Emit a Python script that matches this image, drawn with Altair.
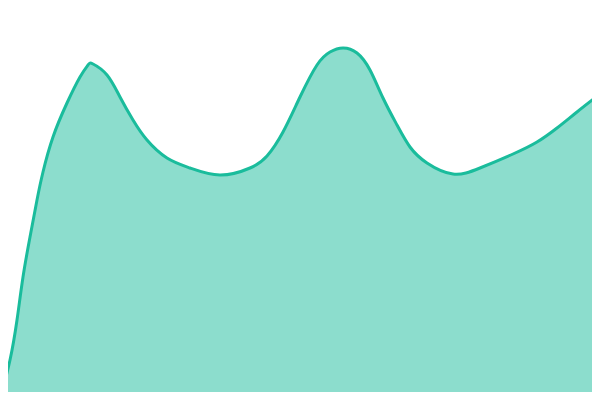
import altair as alt
import pandas as pd

xs = [0, 10, 17, 23, 30, 37, 43, 53, 67, 80, 88, 93, 107, 120, 133, 147, 167, 190, 220,
      250, 267, 283, 300, 317, 330, 343, 357, 370, 383, 397, 410, 427, 453, 480, 513,
      537, 557, 577, 600]
ys = [400, 360, 320, 277, 237, 200, 172, 137, 103, 77, 65, 64, 75, 97, 120, 140, 158, 168, 175,
      168, 156, 132, 97, 65, 52, 48, 53, 70, 98, 125, 147, 163, 174, 168, 154,
      142, 128, 112, 94]
vals = [400 - y for y in ys]

df = pd.DataFrame({"x": xs, "v": vals})

xscale = alt.Scale(domain=[8, 592], nice=False, zero=False)
yscale = alt.Scale(domain=[8, 392], nice=False, zero=False)

base = alt.Chart(df).encode(
    x=alt.X("x:Q", scale=xscale, axis=None),
    y=alt.Y("v:Q", scale=yscale, axis=None),
)
area = base.mark_area(interpolate="natural", color="#1abc9c", opacity=0.5, clip=True)
line = base.mark_line(interpolate="natural", color="#1abc9c", strokeWidth=3, clip=True)

chart = (area + line).properties(
    width=584, height=384,
    padding=0,
    autosize=alt.AutoSizeParams(type="none"),
).configure_view(stroke=None)

chart.save("out.html", embed_options={"renderer": "svg", "actions": False})
